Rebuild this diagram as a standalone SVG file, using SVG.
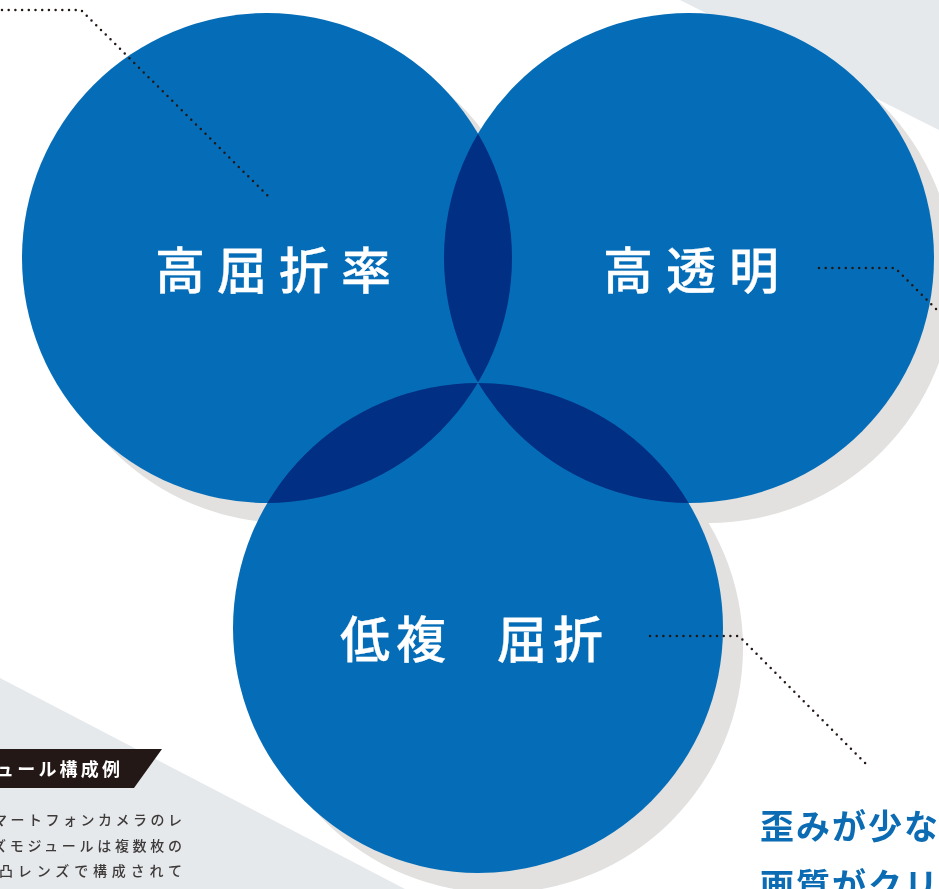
<svg xmlns="http://www.w3.org/2000/svg" width="939" height="889" viewBox="0 0 939 889">
<style>
.bg{fill:#e5e9ec}
.shadow{fill:#e2e1e0}
.disc{fill:#056db7;mix-blend-mode:multiply}
.big{font-family:"Noto Sans CJK JP","Noto Sans",sans-serif;font-size:50px;font-weight:500;fill:#ffffff;stroke:#ffffff;stroke-width:0.3}
.dot{fill:none;stroke:#231815;stroke-width:2.5;stroke-linecap:round;stroke-dasharray:0 6.7}
.body{font-family:"Noto Sans CJK JP","Noto Sans",sans-serif;font-size:14px;font-weight:500;fill:#3e3a39}
.head{font-family:"Noto Sans CJK JP","Noto Sans",sans-serif;font-size:18px;font-weight:700;fill:#ffffff}
.lead{font-family:"Noto Sans CJK JP","Noto Sans",sans-serif;font-size:34px;font-weight:700;fill:#0b6cb4}
</style>
<rect width="939" height="889" fill="#ffffff"/>
<g id="background">
<polygon class="bg" points="680,0 939,0 939,130"/>
<polygon class="bg" points="0,678 405,889 0,889"/>
</g>
<g id="shadows">
<circle class="shadow" cx="287" cy="278" r="245"/>
<circle class="shadow" cx="709" cy="278" r="245"/>
<circle class="shadow" cx="498" cy="648" r="245"/>
</g>
<g id="circles" style="isolation:isolate">
<g id="node-high-refraction">
<circle class="disc" cx="267" cy="258" r="245"/>
<text class="big" x="155" y="289" letter-spacing="12">高屈折率</text>
</g>
<g id="node-high-transparency">
<circle class="disc" cx="689" cy="258" r="245"/>
<text class="big" x="603" y="289" letter-spacing="13">高透明</text>
</g>
<g id="node-low-birefringence">
<circle class="disc" cx="478" cy="628" r="245"/>
<text class="big" x="340" y="658" letter-spacing="6">低複 <tspan x="497">屈折</tspan></text>
</g>
</g>
<g id="connectors">
<path class="dot" d="M2,10 H81 L268,196"/>
<path class="dot" d="M819,268 H895 L945,318"/>
<path class="dot" d="M650,636 H739 L869,767"/>
</g>
<g id="caption">
<polygon points="0,749 162,749 134,788 0,788" fill="#231815"/>
<text class="head" x="-4" y="776" textLength="124" lengthAdjust="spacing">ュール構成例</text>
<text class="body" x="-7" y="825" textLength="189" lengthAdjust="spacing">マートフォンカメラのレ</text>
<text class="body" x="-8" y="851" textLength="190" lengthAdjust="spacing">ズモジュールは複数枚の</text>
<text class="body" x="-1" y="876" textLength="183" lengthAdjust="spacing">凸レンズで構成されて</text>
<text class="body" x="2" y="901" textLength="180" lengthAdjust="spacing">、ABEL™は凸レンズ</text>
</g>
<g id="lead-text">
<text class="lead" x="760" y="839" letter-spacing="2">歪みが少な</text>
<text class="lead" x="760" y="898" letter-spacing="2">画質がクリ</text>
</g>
</svg>
